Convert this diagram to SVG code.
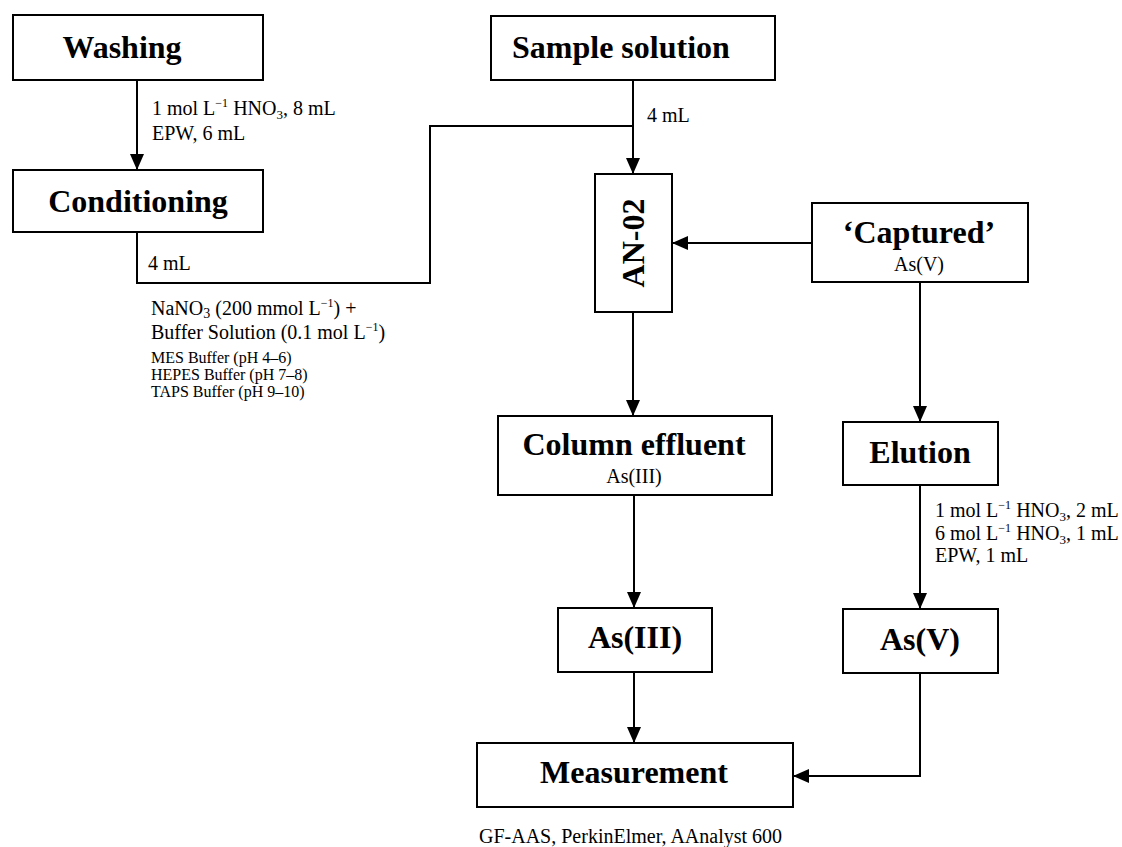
<svg xmlns="http://www.w3.org/2000/svg" width="1122" height="847" viewBox="0 0 1122 847">
<defs>
<marker id="arr" viewBox="0 0 16 14" refX="16" refY="7" markerWidth="16" markerHeight="14" markerUnits="userSpaceOnUse" orient="auto">
<path d="M0,0 L16,7 L0,14 Z" fill="#000"/>
</marker>
<style>
.box{fill:#fff;stroke:#000;stroke-width:2}
.t{font-family:"Liberation Serif","Times New Roman",serif;font-weight:bold;font-size:32px;fill:#000}
.s{font-family:"Liberation Serif","Times New Roman",serif;font-size:20px;fill:#000}
.xs{font-family:"Liberation Serif","Times New Roman",serif;font-size:16px;fill:#000}
.c{fill:none;stroke:#000;stroke-width:2}
</style>
</defs>
<rect width="1122" height="847" fill="#fff"/>
<g id="connectors">
<line class="c" x1="137" y1="80" x2="137" y2="170" marker-end="url(#arr)"/>
<polyline class="c" points="137,232 137,283 430,283 430,126 633,126"/>
<line class="c" x1="633" y1="80" x2="633" y2="174" marker-end="url(#arr)"/>
<line class="c" x1="812" y1="243" x2="672" y2="243" marker-end="url(#arr)"/>
<line class="c" x1="633" y1="312" x2="633" y2="416" marker-end="url(#arr)"/>
<line class="c" x1="920" y1="282" x2="920" y2="422" marker-end="url(#arr)"/>
<line class="c" x1="634" y1="495" x2="634" y2="608" marker-end="url(#arr)"/>
<line class="c" x1="920" y1="485" x2="920" y2="609" marker-end="url(#arr)"/>
<line class="c" x1="634" y1="672" x2="634" y2="743" marker-end="url(#arr)"/>
<polyline class="c" points="920,673 920,776 793,776" marker-end="url(#arr)"/>
</g>
<g id="labels">
<text class="s" x="152" y="115">1 mol L<tspan font-size="12" dy="-8">−1</tspan><tspan dy="8"> HNO</tspan><tspan font-size="13" dy="4">3</tspan><tspan dy="-4">, 8 mL</tspan></text>
<text class="s" x="152" y="140">EPW, 6 mL</text>
<text class="s" x="148" y="270">4 mL</text>
<text class="s" x="647" y="122">4 mL</text>
<text class="s" x="151" y="315">NaNO<tspan font-size="14" dy="3">3</tspan><tspan dy="-3"> (200 mmol L</tspan><tspan font-size="12" dy="-8">−1</tspan><tspan dy="8">) +</tspan></text>
<text class="s" x="151" y="339">Buffer Solution (0.1 mol L<tspan font-size="12" dy="-8">−1</tspan><tspan dy="8">)</tspan></text>
<text class="xs" x="151" y="363">MES Buffer (pH 4–6)</text>
<text class="xs" x="151" y="380">HEPES Buffer (pH 7–8)</text>
<text class="xs" x="151" y="397">TAPS Buffer (pH 9–10)</text>
<text class="s" x="935" y="517">1 mol L<tspan font-size="12" dy="-8">−1</tspan><tspan dy="8"> HNO</tspan><tspan font-size="13" dy="4">3</tspan><tspan dy="-4">, 2 mL</tspan></text>
<text class="s" x="935" y="540">6 mol L<tspan font-size="12" dy="-8">−1</tspan><tspan dy="8"> HNO</tspan><tspan font-size="13" dy="4">3</tspan><tspan dy="-4">, 1 mL</tspan></text>
<text class="s" x="935" y="562">EPW, 1 mL</text>
<text class="s" x="479" y="843">GF-AAS, PerkinElmer, AAnalyst 600</text>
</g>
<g id="washing">
<rect class="box" x="13" y="15" width="250" height="65"/>
<text class="t" x="122" y="58" text-anchor="middle">Washing</text>
</g>
<g id="conditioning">
<rect class="box" x="13" y="170" width="250" height="62"/>
<text class="t" x="138" y="212" text-anchor="middle">Conditioning</text>
</g>
<g id="sample">
<rect class="box" x="491" y="16" width="284" height="64"/>
<text class="t" x="512" y="58">Sample solution</text>
</g>
<g id="an02">
<rect class="box" x="595" y="174" width="77" height="138"/>
<text class="t" x="644" y="243" text-anchor="middle" transform="rotate(-90 644 243)">AN-02</text>
</g>
<g id="captured">
<rect class="box" x="812" y="203" width="216" height="79"/>
<text class="t" x="919" y="243" text-anchor="middle">‘Captured’</text>
<text class="s" x="919" y="271" text-anchor="middle">As(V)</text>
</g>
<g id="effluent">
<rect class="box" x="498" y="416" width="274" height="79"/>
<text class="t" x="634" y="455" text-anchor="middle">Column effluent</text>
<text class="s" x="634" y="483" text-anchor="middle">As(III)</text>
</g>
<g id="elution">
<rect class="box" x="843" y="422" width="155" height="63"/>
<text class="t" x="920" y="463" text-anchor="middle">Elution</text>
</g>
<g id="as3">
<rect class="box" x="558" y="608" width="154" height="64"/>
<text class="t" x="635" y="648" text-anchor="middle">As(III)</text>
</g>
<g id="as5">
<rect class="box" x="843" y="609" width="155" height="64"/>
<text class="t" x="920" y="650" text-anchor="middle">As(V)</text>
</g>
<g id="measurement">
<rect class="box" x="477" y="743" width="316" height="64"/>
<text class="t" x="634" y="783" text-anchor="middle">Measurement</text>
</g>
</svg>
